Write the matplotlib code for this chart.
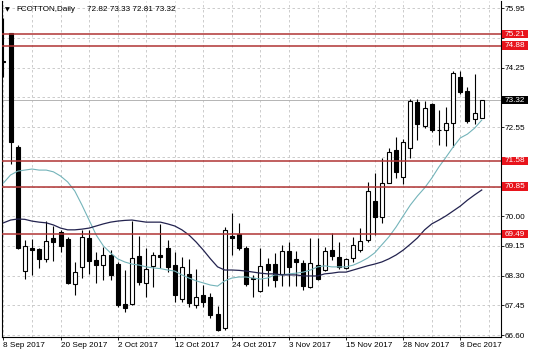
import matplotlib
matplotlib.use('Agg')
import matplotlib.pyplot as plt
from matplotlib.patches import Rectangle
import numpy as np

plt.rcParams['font.family'] = ['Liberation Sans', 'DejaVu Sans']

#%% data (FCOTTON daily, 8 Sep - 13 Dec 2017)
opens = [74.45, 75.23, 71.99, 68.44, 69.08, 69.05, 68.78, 69.39, 69.56, 69.35,
         68.05, 68.55, 69.37, 68.75, 68.60, 68.89, 68.62, 67.48, 67.48, 68.86,
         68.10, 68.58, 68.90, 69.08, 68.60, 67.63, 68.34, 67.46, 67.74, 67.70,
         67.19, 66.79, 69.42, 69.48, 69.08, 68.22, 67.87, 68.62, 68.62, 68.34,
         68.99, 68.77, 68.65, 67.97, 68.60, 68.46, 69.03, 68.82, 68.51, 68.79,
         69.03, 69.32, 70.44, 69.97, 70.96, 71.89, 71.13, 71.94, 73.28, 72.58,
         73.22, 72.48, 72.47, 72.66, 73.99, 73.59, 72.77, 72.82]
highs = [75.67, 75.25, 72.05, 69.32, 69.34, 69.10, 69.87, 69.73, 69.60, 69.40,
         68.70, 69.60, 69.60, 68.98, 69.13, 69.03, 68.70, 68.46, 69.87, 69.42,
         69.08, 68.98, 69.77, 69.32, 68.98, 68.82, 68.77, 68.48, 68.03, 67.80,
         67.43, 69.68, 70.08, 69.80, 69.15, 68.32, 69.08, 68.79, 68.94, 69.19,
         69.27, 68.99, 68.74, 69.37, 69.37, 69.13, 69.51, 69.27, 68.80, 69.40,
         69.65, 70.99, 71.23, 71.66, 71.95, 72.28, 72.20, 73.35, 73.35, 73.31,
         73.25, 73.04, 73.12, 74.16, 74.16, 73.69, 74.07, 73.33]
lows = [73.98, 71.50, 69.05, 68.20, 68.32, 68.52, 68.69, 68.72, 68.98, 68.05,
        67.74, 68.22, 68.36, 68.08, 68.17, 68.17, 67.40, 67.27, 67.45, 68.03,
        67.68, 67.96, 68.51, 68.41, 67.55, 67.55, 67.41, 67.36, 67.41, 67.10,
        66.72, 66.75, 68.89, 69.03, 68.00, 67.70, 67.84, 68.00, 67.98, 68.00,
        68.00, 68.00, 67.88, 67.94, 68.17, 68.44, 68.75, 68.48, 68.48, 68.70,
        68.98, 69.27, 69.45, 69.80, 70.94, 71.08, 70.92, 71.66, 72.18, 72.52,
        72.40, 72.04, 72.02, 71.99, 73.49, 72.68, 72.64, 72.81]
closes = [74.40, 72.13, 69.10, 69.16, 69.04, 68.77, 69.29, 69.25, 69.16, 68.08,
          68.41, 69.40, 68.72, 68.60, 68.89, 68.32, 67.46, 67.36, 68.81, 68.11,
          68.48, 68.89, 68.84, 68.55, 67.74, 68.54, 67.51, 67.70, 67.55, 67.17,
          66.74, 69.60, 69.38, 69.08, 68.05, 68.20, 68.58, 68.46, 68.17, 68.99,
          68.54, 68.68, 68.01, 68.67, 68.20, 68.99, 68.86, 68.54, 68.77, 69.17,
          69.29, 70.72, 69.97, 70.94, 71.85, 71.27, 72.13, 73.31, 72.63, 73.09,
          72.46, 72.46, 72.68, 74.11, 73.56, 72.73, 72.95, 73.32]

# moving averages (fast = light teal, slow = navy)
ma_fast = [70.95, 71.18, 71.29, 71.32, 71.35, 71.32, 71.32, 71.27, 71.15, 70.98,
           70.72, 70.32, 69.89, 69.46, 69.15, 68.95, 68.78, 68.69, 68.63, 68.60,
           68.55, 68.52, 68.50, 68.46, 68.43, 68.32, 68.23, 68.15, 68.09, 68.03,
           68.00, 68.15, 68.23, 68.26, 68.26, 68.23, 68.20, 68.23, 68.32, 68.32,
           68.35, 68.37, 68.40, 68.46, 68.55, 68.58, 68.55, 68.55, 68.55, 68.60,
           68.69, 68.80, 68.95, 69.18, 69.41, 69.69, 70.01, 70.32, 70.58, 70.81,
           71.09, 71.41, 71.69, 71.98, 72.24, 72.35, 72.52, 72.75]
ma_slow = [69.81, 69.89, 69.92, 69.91, 69.86, 69.83, 69.81, 69.75, 69.66, 69.61,
           69.61, 69.63, 69.66, 69.72, 69.78, 69.83, 69.86, 69.88, 69.89, 69.86,
           69.83, 69.83, 69.83, 69.78, 69.72, 69.61, 69.46, 69.26, 69.03, 68.78,
           68.55, 68.46, 68.46, 68.45, 68.43, 68.40, 68.37, 68.35, 68.35, 68.32,
           68.32, 68.32, 68.29, 68.29, 68.29, 68.35, 68.37, 68.40, 68.40, 68.46,
           68.52, 68.58, 68.63, 68.69, 68.78, 68.89, 69.03, 69.20, 69.38, 69.61,
           69.78, 69.89, 70.01, 70.15, 70.29, 70.46, 70.61, 70.75]

levels = [75.21, 74.88, 71.58, 70.85, 69.49]
last_price = 73.32
ytick_vals = [66.60, 67.45, 68.30, 69.15, 70.00, 70.85, 71.70, 72.55, 73.40, 74.25, 75.10, 75.95]
# labels that the price tags cover are left blank
ytick_labels = ['66.60', '67.45', '68.30', '69.15', '70.00', '', '', '72.55', '', '74.25', '', '75.95']
date_pos = [0, 8, 16, 24, 32, 40, 48, 56, 64]
date_labels = ['8 Sep 2017', '20 Sep 2017', '2 Oct 2017', '12 Oct 2017', '24 Oct 2017',
               '3 Nov 2017', '15 Nov 2017', '28 Nov 2017', '8 Dec 2017']

#%%
W, H = 536, 357
FS = 5.9
fig = plt.figure(figsize=(W / 100, H / 100), dpi=100)
ax = fig.add_axes([2 / W, 20 / H, 499 / W, 336 / H])
ax.set_xlim(-0.2, 69.7)
ax.set_ylim(66.543, 76.159)
ax.set_axisbelow(True)

x = np.arange(len(opens))
o = np.array(opens)
c = np.array(closes)
up = c >= o
bot = np.minimum(o, c)
hgt = np.abs(c - o)

ax.vlines(x, lows, highs, color='black', lw=0.8, zorder=2)
ax.bar(x[up], hgt[up], 0.56, bottom=bot[up], color='white', edgecolor='black', lw=0.8, zorder=3)
ax.bar(x[~up], hgt[~up], 0.56, bottom=bot[~up], color='black', edgecolor='black', lw=0.8, zorder=3)

ax.plot(x, ma_fast, color='#74b4ba', lw=0.8, zorder=4)
ax.plot(x, ma_slow, color='#23234f', lw=0.9, zorder=4)

ax.axhline(last_price, color='#b4b4b4', lw=0.7, zorder=1)
for lv in levels:
    ax.axhline(lv, color='#b03434', lw=1.1, zorder=5)

# grid
ax.set_xticks(date_pos)
ax.set_xticklabels(date_labels, ha='left')
ax.set_xticks(np.arange(0, 70, 4), minor=True)
ax.tick_params(axis='x', which='minor', length=0)
ax.grid(which='both', axis='x', color='#c4c4c4', lw=0.6, linestyle=(0, (3, 3)))
ax.yaxis.tick_right()
ax.set_yticks(ytick_vals)
ax.set_yticklabels(ytick_labels)
ax.grid(axis='y', color='#c4c4c4', lw=0.6, linestyle=(0, (3, 3)))
ax.tick_params(axis='y', direction='out', length=2, width=0.6, pad=0.8, labelsize=FS)
ax.tick_params(axis='x', which='major', direction='out', length=2, width=0.6, pad=1.5, labelsize=FS)

for s in ['left', 'right', 'bottom']:
    ax.spines[s].set_linewidth(0.8)
    ax.spines[s].set_color('black')
ax.spines['top'].set_visible(False)

# price tags on the right axis
trans = ax.get_yaxis_transform()
box_h = 8.5 * (76.159 - 66.543) / 336
tags = [(lv, '#e8141c') for lv in levels] + [(last_price, 'black')]
for lv, col in tags:
    ax.add_patch(Rectangle((1.002, lv - box_h / 2), 26 / 499, box_h, transform=trans,
                           facecolor=col, edgecolor='none', clip_on=False, zorder=6))
    ax.text(1.002 + 13 / 499, lv, '%.2f' % lv, transform=trans, ha='center', va='center',
            color='white', fontsize=FS, zorder=7, clip_on=False)

# header
fig.text(5 / W, 1 - 9.5 / H, '\u25bc', fontsize=4.5, family='DejaVu Sans', va='center')
fig.text(16.7 / W, 1 - 9.5 / H, 'FCOTTON,Daily', fontsize=FS, va='center')
fig.text(86.7 / W, 1 - 9.5 / H, '72.82 73.33 72.81 73.32', fontsize=FS, va='center')

fig.savefig('out.png', dpi=100, facecolor='white')
